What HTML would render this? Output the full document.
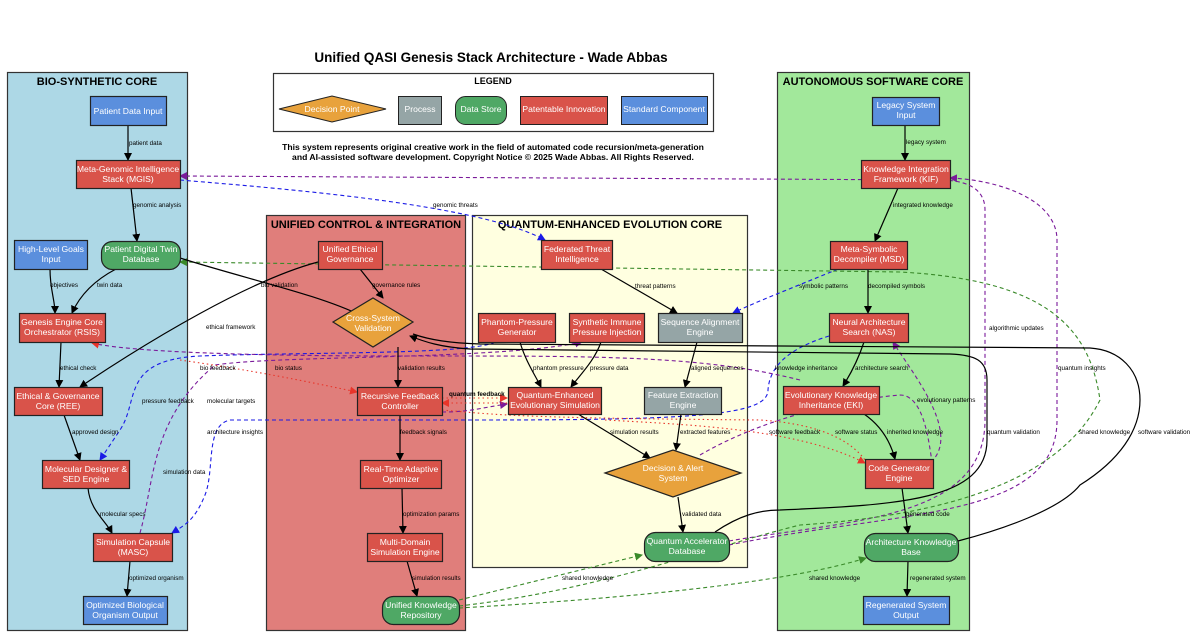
<!DOCTYPE html>
<html><head><meta charset="utf-8"><style>
html,body{margin:0;padding:0;background:#fff;}
svg{display:block;font-family:"Liberation Sans",Arial,sans-serif;}
.n{fill:#fff;font-size:8.6px;text-anchor:middle;}
.l{fill:#000;font-size:6.3px;}
.e{fill:none;stroke:#000;stroke-width:1.2;}
.ct{font-weight:bold;font-size:11px;text-anchor:middle;fill:#000;}
</style></head><body>
<svg width="1200" height="638" viewBox="0 0 1200 638" xmlns="http://www.w3.org/2000/svg">
<defs>
<marker id="ak" markerWidth="8" markerHeight="8" refX="7" refY="4" orient="auto" markerUnits="userSpaceOnUse"><path d="M0,0 L8,4 L0,8z" fill="#000"/></marker>
<marker id="ab" markerWidth="8" markerHeight="8" refX="7" refY="4" orient="auto" markerUnits="userSpaceOnUse"><path d="M0,0 L8,4 L0,8z" fill="#1a1ae6"/></marker>
<marker id="ap" markerWidth="8" markerHeight="8" refX="7" refY="4" orient="auto" markerUnits="userSpaceOnUse"><path d="M0,0 L8,4 L0,8z" fill="#7a1a9a"/></marker>
<marker id="ag" markerWidth="8" markerHeight="8" refX="7" refY="4" orient="auto" markerUnits="userSpaceOnUse"><path d="M0,0 L8,4 L0,8z" fill="#3a8a2a"/></marker>
<marker id="ar" markerWidth="8" markerHeight="8" refX="7" refY="4" orient="auto" markerUnits="userSpaceOnUse"><path d="M0,0 L8,4 L0,8z" fill="#e8352a"/></marker>
</defs>
<rect width="1200" height="638" fill="#fff"/>
<text x="491" y="62" font-size="13.5" font-weight="bold" text-anchor="middle">Unified QASI Genesis Stack Architecture - Wade Abbas</text>

<!-- clusters -->
<rect x="7.5" y="72.5" width="180" height="558" fill="#add8e6" stroke="#333" stroke-width="1.2"/>
<text class="ct" x="97" y="85">BIO-SYNTHETIC CORE</text>
<rect x="266.5" y="215.5" width="199" height="415" fill="#e07e7b" stroke="#333" stroke-width="1.2"/>
<text class="ct" x="366" y="228">UNIFIED CONTROL &amp; INTEGRATION</text>
<rect x="472.5" y="215.5" width="275" height="352" fill="#ffffe0" stroke="#333" stroke-width="1.2"/>
<text class="ct" x="610" y="228">QUANTUM-ENHANCED EVOLUTION CORE</text>
<rect x="777.5" y="72.5" width="192" height="558" fill="#a2e89b" stroke="#333" stroke-width="1.2"/>
<text class="ct" x="873" y="85">AUTONOMOUS SOFTWARE CORE</text>

<!-- legend -->
<rect x="273.5" y="73.5" width="440" height="58" fill="#fff" stroke="#333" stroke-width="1.2"/>
<text x="493" y="84" font-size="9" font-weight="bold" text-anchor="middle">LEGEND</text>
<polygon points="279,109 332,96 386,109 332,122" fill="#e8a23c" stroke="#222"/>
<text class="n" x="332" y="112">Decision Point</text>
<rect x="398.5" y="96.5" width="43" height="28" fill="#95a5a6" stroke="#222"/>
<text class="n" x="420" y="112">Process</text>
<rect x="455.5" y="96.5" width="51" height="28" rx="10" fill="#4fa865" stroke="#222"/>
<text class="n" x="481" y="112">Data Store</text>
<rect x="520.5" y="96.5" width="87" height="28" fill="#d9534a" stroke="#222"/>
<text class="n" x="564" y="112">Patentable Innovation</text>
<rect x="621.5" y="96.5" width="86" height="28" fill="#5b8fdd" stroke="#222"/>
<text class="n" x="664" y="112">Standard Component</text>
<text x="493" y="150" font-size="8.6" font-weight="bold" text-anchor="middle">This system represents original creative work in the field of automated code recursion/meta-generation</text>
<text x="493" y="160" font-size="8.6" font-weight="bold" text-anchor="middle">and AI-assisted software development. Copyright Notice © 2025 Wade Abbas. All Rights Reserved.</text>

<!-- colored dashed edges (behind nodes) -->
<g fill="none" stroke-width="1.1">
<path d="M180,180 C300,190 480,205 545,240" stroke="#1a1ae6" stroke-dasharray="4,3" marker-end="url(#ab)"/>
<path d="M729,541 C850,520 985,520 985,420 L985,210 C985,185 960,180 940,180 L180,176" stroke="#7a1a9a" stroke-dasharray="4,3" marker-end="url(#ap)"/>
<path d="M729,545 C900,510 1057,520 1057,420 L1057,240 C1057,200 1000,180 950,178" stroke="#7a1a9a" stroke-dasharray="4,3" marker-end="url(#ap)"/>
<path d="M459,606 C600,590 700,550 800,525 C950,515 1060,480 1100,400 C1090,330 1050,280 900,272 L180,262" stroke="#3a8a2a" stroke-dasharray="4,3" marker-end="url(#ag)"/>
<path d="M459,600 C520,585 580,570 642,555" stroke="#3a8a2a" stroke-dasharray="4,3" marker-end="url(#ag)"/>
<path d="M459,608 C600,600 780,585 866,558" stroke="#3a8a2a" stroke-dasharray="4,3" marker-end="url(#ag)"/>
<path d="M838,269 C800,285 760,300 733,313" stroke="#1a1ae6" stroke-dasharray="4,3" marker-end="url(#ab)"/>
<path d="M829,336 C800,345 770,360 768,390 C768,415 700,420 480,420 L230,420 C205,425 215,470 205,495 C195,520 185,525 172,533" stroke="#1a1ae6" stroke-dasharray="4,3" marker-end="url(#ab)"/>
<path d="M495,342 C470,355 300,352 200,356 C120,360 140,400 120,430 L100,460" stroke="#1a1ae6" stroke-dasharray="4,3" marker-end="url(#ab)"/>
<path d="M140,533 C155,480 150,420 215,365 C280,355 500,360 582,342" stroke="#7a1a9a" stroke-dasharray="4,3" marker-end="url(#ap)"/>
<path d="M700,455 C760,420 840,400 900,395 C930,395 930,470 933,460 C960,430 910,370 893,342" stroke="#7a1a9a" stroke-dasharray="4,3" marker-end="url(#ap)"/>
<path d="M800,380 C700,355 600,356 400,356 C250,356 130,352 92,343" stroke="#7a1a9a" stroke-dasharray="4,3" marker-end="url(#ar)"/>
<path d="M442,412 C470,412 480,408 507,404" stroke="#7a1a9a" stroke-dasharray="4,3" marker-end="url(#ap)"/>
<path d="M180,360 C250,370 300,380 357,392" stroke="#e8352a" stroke-dasharray="1.5,3" marker-end="url(#ar)"/>
<path d="M442,398 L507,398" stroke="#e8352a" stroke-dasharray="1.5,3" marker-end="url(#ar)"/>
<path d="M507,403 L442,403" stroke="#e8352a" stroke-dasharray="1.5,3" marker-end="url(#ar)"/>
<path d="M605,420 C700,425 800,430 865,463" stroke="#e8352a" stroke-dasharray="1.5,3" marker-end="url(#ar)"/>
<path d="M442,410 C500,415 520,418 760,420 C820,424 850,440 865,460" stroke="#e8352a" stroke-dasharray="1.5,3"/>
</g>

<!-- black edges -->
<g class="e">
<path d="M128,125 L128,160" marker-end="url(#ak)"/>
<path d="M131,188 L137,241" marker-end="url(#ak)"/>
<path d="M50,269 C50,290 55,300 55,313" marker-end="url(#ak)"/>
<path d="M116,269 C95,280 80,295 72,313" marker-end="url(#ak)"/>
<path d="M61,342 L59,387" marker-end="url(#ak)"/>
<path d="M318,262 C250,280 150,340 80,387" marker-end="url(#ak)"/>
<path d="M64,415 L80,460" marker-end="url(#ak)"/>
<path d="M88,488 C90,510 105,520 112,533" marker-end="url(#ak)"/>
<path d="M130,561 L127,596" marker-end="url(#ak)"/>
<path d="M180,258 C250,280 320,295 362,316" marker-end="url(#ak)"/>
<path d="M360,269 L383,298" marker-end="url(#ak)"/>
<path d="M398,347 L398,387" marker-end="url(#ak)"/>
<path d="M400,415 L400,460" marker-end="url(#ak)"/>
<path d="M402,488 L403,533" marker-end="url(#ak)"/>
<path d="M407,561 L417,596" marker-end="url(#ak)"/>
<path d="M601,269 L677,313" marker-end="url(#ak)"/>
<path d="M520,342 C525,360 535,375 541,387" marker-end="url(#ak)"/>
<path d="M601,342 C595,360 580,375 571,387" marker-end="url(#ak)"/>
<path d="M697,342 L685,387" marker-end="url(#ak)"/>
<path d="M578,414 L650,458" marker-end="url(#ak)"/>
<path d="M681,414 L676,450" marker-end="url(#ak)"/>
<path d="M678,497 L683,532" marker-end="url(#ak)"/>
<path d="M905,125 L905,160" marker-end="url(#ak)"/>
<path d="M898,188 L875,241" marker-end="url(#ak)"/>
<path d="M868,269 L868,313" marker-end="url(#ak)"/>
<path d="M864,342 C858,360 850,375 843,386" marker-end="url(#ak)"/>
<path d="M864,414 C880,425 890,440 895,459" marker-end="url(#ak)"/>
<path d="M902,488 L908,533" marker-end="url(#ak)"/>
<path d="M908,561 L907,596" marker-end="url(#ak)"/>
<path d="M715,532 C740,515 760,510 780,510 C900,505 987,500 987,440 L987,380 C987,360 975,355 950,354 L470,349 C440,347 425,342 410,336" marker-end="url(#ak)"/>
<path d="M958,541 C1000,530 1060,510 1080,485 C1120,460 1140,430 1140,400 C1140,370 1120,350 1090,348 L480,344 C450,343 430,340 413,334"/>
</g>

<!-- nodes -->
<g stroke="#222" stroke-width="1.2">
<rect x="90.5" y="96.5" width="76" height="29" fill="#5b8fdd"/>
<rect x="76.5" y="160.5" width="104" height="28" fill="#d9534a"/>
<rect x="101.5" y="241.5" width="79" height="28" rx="11" fill="#4fa865"/>
<rect x="14.5" y="240.5" width="73" height="29" fill="#5b8fdd"/>
<rect x="19.5" y="313.5" width="86" height="29" fill="#d9534a"/>
<rect x="14.5" y="387.5" width="88" height="28" fill="#d9534a"/>
<rect x="42.5" y="460.5" width="87" height="28" fill="#d9534a"/>
<rect x="93.5" y="533.5" width="79" height="28" fill="#d9534a"/>
<rect x="83.5" y="596.5" width="84" height="28" fill="#5b8fdd"/>
<rect x="318.5" y="241.5" width="64" height="28" fill="#d9534a"/>
<polygon points="333,322 373,298 413,322 373,347" fill="#e8a23c"/>
<rect x="357.5" y="387.5" width="85" height="28" fill="#d9534a"/>
<rect x="360.5" y="460.5" width="81" height="28" fill="#d9534a"/>
<rect x="367.5" y="533.5" width="75" height="28" fill="#d9534a"/>
<rect x="382.5" y="596.5" width="77" height="28" rx="11" fill="#4fa865"/>
<rect x="541.5" y="240.5" width="71" height="29" fill="#d9534a"/>
<rect x="478.5" y="313.5" width="77" height="29" fill="#d9534a"/>
<rect x="569.5" y="313.5" width="75" height="29" fill="#d9534a"/>
<rect x="658.5" y="313.5" width="84" height="29" fill="#95a5a6"/>
<rect x="508.5" y="387.5" width="93" height="27" fill="#d9534a"/>
<rect x="644.5" y="387.5" width="77" height="27" fill="#95a5a6"/>
<polygon points="605,473 673,450 741,473 673,497" fill="#e8a23c"/>
<rect x="644.5" y="532.5" width="85" height="29" rx="11" fill="#4fa865"/>
<rect x="872.5" y="97.5" width="67" height="28" fill="#5b8fdd"/>
<rect x="861.5" y="160.5" width="89" height="28" fill="#d9534a"/>
<rect x="830.5" y="241.5" width="77" height="28" fill="#d9534a"/>
<rect x="829.5" y="313.5" width="79" height="29" fill="#d9534a"/>
<rect x="783.5" y="386.5" width="96" height="28" fill="#d9534a"/>
<rect x="865.5" y="459.5" width="68" height="29" fill="#d9534a"/>
<rect x="864.5" y="533.5" width="94" height="28" rx="11" fill="#4fa865"/>
<rect x="863.5" y="596.5" width="86" height="28" fill="#5b8fdd"/>
</g>

<g class="n">
<text x="128" y="114">Patient Data Input</text>
<text x="128" y="172">Meta-Genomic Intelligence</text><text x="128" y="182">Stack (MGIS)</text>
<text x="141" y="252">Patient Digital Twin</text><text x="141" y="262">Database</text>
<text x="51" y="252">High-Level Goals</text><text x="51" y="262">Input</text>
<text x="62" y="325">Genesis Engine Core</text><text x="62" y="335">Orchestrator (RSIS)</text>
<text x="58" y="399">Ethical &amp; Governance</text><text x="58" y="409">Core (REE)</text>
<text x="86" y="472">Molecular Designer &amp;</text><text x="86" y="482">SED Engine</text>
<text x="133" y="545">Simulation Capsule</text><text x="133" y="555">(MASC)</text>
<text x="125" y="608">Optimized Biological</text><text x="125" y="618">Organism Output</text>
<text x="350" y="252">Unified Ethical</text><text x="350" y="262">Governance</text>
<text x="373" y="321">Cross-System</text><text x="373" y="331">Validation</text>
<text x="400" y="399">Recursive Feedback</text><text x="400" y="409">Controller</text>
<text x="401" y="472">Real-Time Adaptive</text><text x="401" y="482">Optimizer</text>
<text x="405" y="545">Multi-Domain</text><text x="405" y="555">Simulation Engine</text>
<text x="421" y="608">Unified Knowledge</text><text x="421" y="618">Repository</text>
<text x="577" y="252">Federated Threat</text><text x="577" y="262">Intelligence</text>
<text x="517" y="325">Phantom-Pressure</text><text x="517" y="335">Generator</text>
<text x="607" y="325">Synthetic Immune</text><text x="607" y="335">Pressure Injection</text>
<text x="700" y="325">Sequence Alignment</text><text x="700" y="335">Engine</text>
<text x="555" y="398">Quantum-Enhanced</text><text x="555" y="408">Evolutionary Simulation</text>
<text x="683" y="398">Feature Extraction</text><text x="683" y="408">Engine</text>
<text x="673" y="471">Decision &amp; Alert</text><text x="673" y="481">System</text>
<text x="687" y="544">Quantum Accelerator</text><text x="687" y="554">Database</text>
<text x="906" y="108">Legacy System</text><text x="906" y="118">Input</text>
<text x="906" y="172">Knowledge Integration</text><text x="906" y="182">Framework (KIF)</text>
<text x="869" y="252">Meta-Symbolic</text><text x="869" y="262">Decompiler (MSD)</text>
<text x="869" y="325">Neural Architecture</text><text x="869" y="335">Search (NAS)</text>
<text x="831" y="398">Evolutionary Knowledge</text><text x="831" y="408">Inheritance (EKI)</text>
<text x="899" y="471">Code Generator</text><text x="899" y="481">Engine</text>
<text x="911" y="545">Architecture Knowledge</text><text x="911" y="555">Base</text>
<text x="906" y="608">Regenerated System</text><text x="906" y="618">Output</text>
</g>

<g class="l">
<text x="129" y="145">patient data</text>
<text x="133" y="207">genomic analysis</text>
<text x="50" y="287">objectives</text>
<text x="97" y="287">twin data</text>
<text x="60" y="370">ethical check</text>
<text x="206" y="329">ethical framework</text>
<text x="72" y="434">approved design</text>
<text x="100" y="516">molecular specs</text>
<text x="129" y="580">optimized organism</text>
<text x="261" y="287">bio validation</text>
<text x="372" y="287">governance rules</text>
<text x="398" y="370">validation results</text>
<text x="400" y="434">feedback signals</text>
<text x="403" y="516">optimization params</text>
<text x="412" y="580">simulation results</text>
<text x="433" y="207">genomic threats</text>
<text x="635" y="288">threat patterns</text>
<text x="533" y="370">phantom pressure</text>
<text x="590" y="370">pressure data</text>
<text x="691" y="370">aligned sequences</text>
<text x="610" y="434">simulation results</text>
<text x="680" y="434">extracted features</text>
<text x="682" y="516">validated data</text>
<text x="906" y="144">legacy system</text>
<text x="893" y="207">integrated knowledge</text>
<text x="868" y="288">decompiled symbols</text>
<text x="799" y="288">symbolic patterns</text>
<text x="855" y="370">architecture search</text>
<text x="775" y="370">knowledge inheritance</text>
<text x="917" y="402">evolutionary patterns</text>
<text x="887" y="434">inherited knowledge</text>
<text x="769" y="434">software feedback</text>
<text x="835" y="434">software status</text>
<text x="906" y="516">generated code</text>
<text x="910" y="580">regenerated system</text>
<text x="809" y="580">shared knowledge</text>
<text x="562" y="580">shared knowledge</text>
<text x="989" y="330">algorithmic updates</text>
<text x="1058" y="370">quantum insights</text>
<text x="987" y="434">quantum validation</text>
<text x="1079" y="434">shared knowledge</text>
<text x="1138" y="434">software validation</text>
<text x="200" y="370">bio feedback</text>
<text x="275" y="370">bio status</text>
<text x="142" y="403">pressure feedback</text>
<text x="207" y="403">molecular targets</text>
<text x="207" y="434">architecture insights</text>
<text x="163" y="474">simulation data</text>
<text x="449" y="396" font-weight="bold">quantum feedback</text>
</g>
</svg>
</body></html>
